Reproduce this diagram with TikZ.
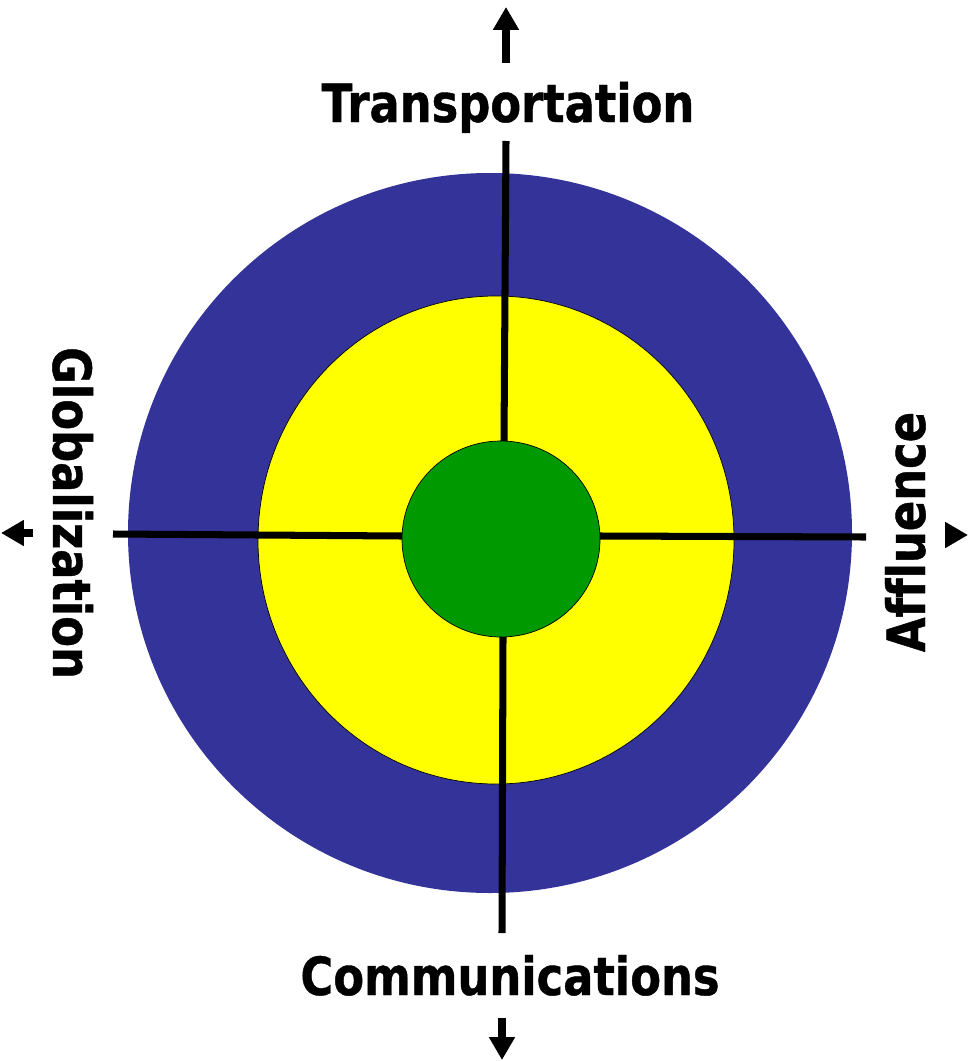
\documentclass[tikz,border=0pt]{standalone}
\usepackage{fontspec}
\newfontfamily\axisfont[FakeStretch=0.85, Ligatures=NoCommon, BoldFeatures={FakeBold=0.8}]{DejaVu Sans}
\usetikzlibrary{arrows.meta}

\definecolor{ringblue}{RGB}{51,51,153}
\definecolor{ringyellow}{RGB}{255,255,0}
\definecolor{coregreen}{RGB}{0,153,0}

\begin{document}
\begin{tikzpicture}[x=0.02cm, y=-0.02cm,
    axisline/.style={line width=4pt},
    axisarrow/.style={line width=4.5pt, -{Triangle[width=14pt,length=13pt]}},
    axislabel/.style={font=\axisfont\bfseries\fontsize{30}{36}\selectfont, anchor=base, inner sep=0pt}]
    \useasboundingbox (0,0) rectangle (969,1061);

    % rings
    \fill[ringblue] (490,533) ellipse [x radius=362, y radius=360];
    \filldraw[fill=ringyellow, draw=black, thin] (496,540) ellipse [x radius=238, y radius=244];
    \filldraw[fill=coregreen, draw=black, thin] (501,539) ellipse [x radius=99, y radius=98];

    % axes
    \coordinate (topend) at (506,141);
    \coordinate (coretop) at (504,441);
    \coordinate (corebottom) at (503,637);
    \coordinate (bottomend) at (502,933);
    \coordinate (leftend) at (113,534);
    \coordinate (coreleft) at (402,536);
    \coordinate (coreright) at (600,536);
    \coordinate (rightend) at (866,537);
    \draw[axisline] (topend) -- (coretop);
    \draw[axisline] (corebottom) -- (bottomend);
    \draw[axisline] (leftend) -- (coreleft);
    \draw[axisline] (coreright) -- (rightend);

    % labels
    \node[axislabel] (transport) at (508,122) {Transportation};
    \node[axislabel] (comms) at (510,995) {Communications};
    \node[axislabel, rotate=-90] (global) at (53,513) {Globalization};
    \node[axislabel, rotate=90] (affluence) at (925,532) {Affluence};

    % arrows
    \coordinate (uptail) at (506,63);
    \coordinate (uptip) at (506,7);
    \coordinate (downtail) at (502,1018);
    \coordinate (downtip) at (502,1060);
    \coordinate (lefttail) at (33,533);
    \coordinate (lefttip) at (1,533);
    \coordinate (righttail) at (945,535);
    \coordinate (righttip) at (968,535);
    \draw[axisarrow] (uptail) -- (uptip);
    \draw[axisarrow] (downtail) -- (downtip);
    \draw[axisarrow] (lefttail) -- (lefttip);
    \draw[axisarrow] (righttail) -- (righttip);
\end{tikzpicture}
\end{document}
